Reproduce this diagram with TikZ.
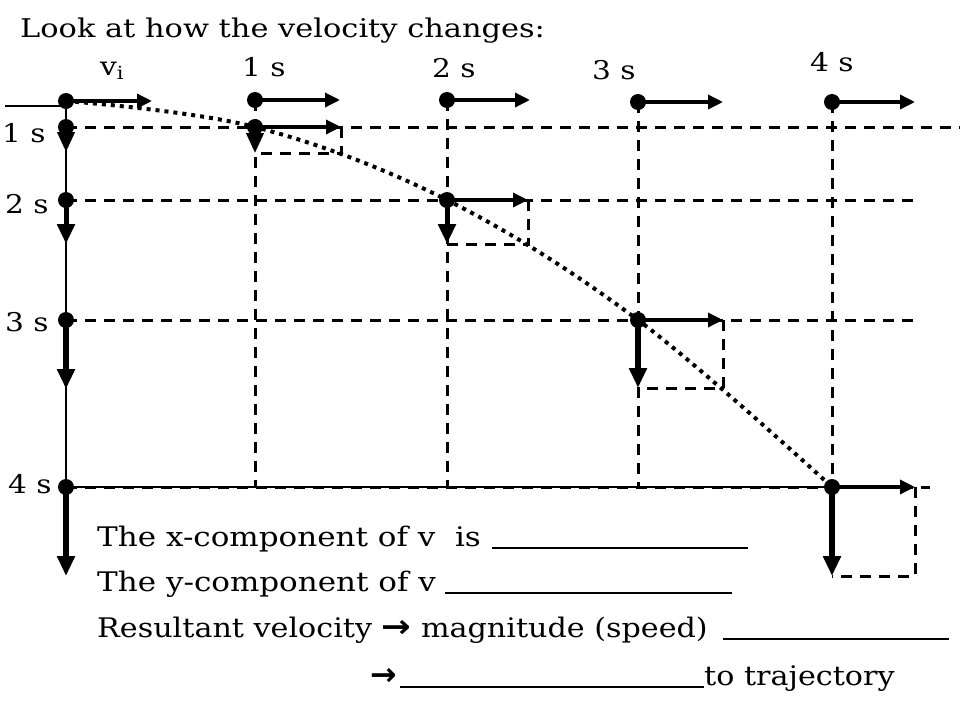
\documentclass[tikz,border=0pt]{standalone}
\usepackage{fontspec}
\setmainfont{DejaVu Serif}
\newfontfamily\symfont{DejaVu Sans}
\usetikzlibrary{arrows.meta}
\newlength\px \setlength\px{0.03cm}
\newcommand{\wide}[1]{\scalebox{1.15}[1]{#1}}
\newcommand{\bigarrow}{{\symfont\bfseries\fontsize{27}{27}\selectfont →}}
\tikzset{
  dot/.style={circle,fill=black,inner sep=0pt,minimum size=16\px},
  vecx/.style={line width=3.5\px,-{Triangle[length=12.8pt,width=11.9pt]}},
  vecy/.style={-{Triangle[length=17pt,width=14.5pt]}},
  gridline/.style={line width=3\px,dash pattern=on 11\px off 8\px},
  thinline/.style={line width=1.3\px},
  traj/.style={line width=4\px,dash pattern=on 4\px off 5\px},
  lab/.style={font=\fontsize{22}{26}\selectfont,inner sep=0pt,anchor=base west},
  body/.style={font=\fontsize{23}{28}\selectfont,inner sep=0pt,anchor=base west},
}
\begin{document}
\begin{tikzpicture}[x=0.03cm,y=-0.03cm]
\useasboundingbox (0,0) rectangle (960,720);
% title
\node[lab] (title) at (20,37) {\scalebox{1.18}[1]{Look at how the velocity changes:}};
% top labels
\node[lab] (lvi) at (100,75) {\wide{v\textsubscript{i}}};
\node[lab] (lt1) at (242,76) {\wide{1 s}};
\node[lab] (lt2) at (432,77) {\wide{2 s}};
\node[lab] (lt3) at (592,79) {\wide{3 s}};
\node[lab] (lt4) at (810,71) {\wide{4 s}};
% left labels
\node[lab] (ll1) at (2,142) {\wide{1 s}};
\node[lab] (ll2) at (5,213) {\wide{2 s}};
\node[lab] (ll3) at (5,331) {\wide{3 s}};
\node[lab] (ll4) at (8,493) {\wide{4 s}};

% coordinates for grid ends
\coordinate (g0) at (5,106);
\coordinate (h1e) at (960,127);
\coordinate (h2e) at (920,200);
\coordinate (h3e) at (915,320);
\coordinate (h4e) at (930,487);
\coordinate (c1b) at (255,487);
\coordinate (c2b) at (447,487);
\coordinate (c3b) at (638,487);
\coordinate (c4b) at (832,487);

% top dots
\node[dot] (v0) at (66,101) {};
\node[dot] (t1) at (255,100) {};
\node[dot] (t2) at (447,100) {};
\node[dot] (t3) at (638,102) {};
\node[dot] (t4) at (832,102) {};
% left column dots
\node[dot] (l1) at (66,127) {};
\node[dot] (l2) at (66,200) {};
\node[dot] (l3) at (66,320) {};
\node[dot] (l4) at (66,487) {};
% trajectory dots
\node[dot] (d1) at (255,127) {};
\node[dot] (d2) at (447,200) {};
\node[dot] (d3) at (638,320) {};
\node[dot] (d4) at (832,487) {};

% thin lines
\draw[thinline] (g0) -- (g0 -| v0);
\draw[thinline] (v0.center) -- (l4.center);
\draw[thinline] (l4.center) -- (d4.center);

% dashed grid
\draw[gridline] (l1.center) -- (h1e);
\draw[gridline] (l2.center) -- (h2e);
\draw[gridline] (l3.center) -- (h3e);
\draw[gridline] (l4.center) -- (h4e);
\draw[gridline] (t1.center) -- (c1b);
\draw[gridline] (t2.center) -- (c2b);
\draw[gridline] (t3.center) -- (c3b);
\draw[gridline] (t4.center) -- (c4b);

% horizontal velocity arrows (top row)
\coordinate (v0x) at (152,101);
\coordinate (t1x) at (340,100);
\coordinate (t2x) at (530,100);
\coordinate (t3x) at (723,102);
\coordinate (t4x) at (915,102);
\draw[vecx] (v0.center) -- (v0x);
\draw[vecx] (t1.center) -- (t1x);
\draw[vecx] (t2.center) -- (t2x);
\draw[vecx] (t3.center) -- (t3x);
\draw[vecx] (t4.center) -- (t4x);

% left column vertical arrows
\coordinate (l1y) at (66,152);
\coordinate (l2y) at (66,244);
\coordinate (l3y) at (66,389);
\coordinate (l4y) at (66,576);
\draw[vecy,line width=4\px] (l1.center) -- (l1y);
\draw[vecy,line width=5\px] (l2.center) -- (l2y);
\draw[vecy,line width=6\px] (l3.center) -- (l3y);
\draw[vecy,line width=6.5\px] (l4.center) -- (l4y);

% component boxes at each time
\coordinate (d1x) at (341,127);
\coordinate (d1y) at (255,153);
\coordinate (d1c) at (341,153);
\coordinate (d2x) at (528,200);
\coordinate (d2y) at (447,244);
\coordinate (d2c) at (528,244);
\coordinate (d3x) at (723,320);
\coordinate (d3y) at (638,388);
\coordinate (d3c) at (723,388);
\coordinate (d4x) at (915,487);
\coordinate (d4y) at (832,576);
\coordinate (d4c) at (915,576);
\draw[gridline] (d1x) -- (d1c) -- (d1y);
\draw[gridline] (d2x) -- (d2c) -- (d2y);
\draw[gridline] (d3x) -- (d3c) -- (d3y);
\draw[gridline] (d4x) -- (d4c) -- (d4y);
\draw[vecx] (d1.center) -- (d1x);
\draw[vecx] (d2.center) -- (d2x);
\draw[vecx] (d3.center) -- (d3x);
\draw[vecx] (d4.center) -- (d4x);
\draw[vecy,line width=4\px] (d1.center) -- (d1y);
\draw[vecy,line width=5\px] (d2.center) -- (d2y);
\draw[vecy,line width=6\px] (d3.center) -- (d3y);
\draw[vecy,line width=6.5\px] (d4.center) -- (d4y);

% trajectory
\draw[traj] plot[smooth,tension=0.6] coordinates {(v0.center) (d1.center) (d2.center) (d3.center) (d4.center)};

% bottom text
\node[body] (q1) at (97,546) {\makebox[395\px][l]{\wide{The x-component of v~~is}}\rule[-3\px]{256\px}{2\px}};
\node[body] (q2) at (97,591) {\makebox[348\px][l]{\wide{The y-component of v}}\rule[-3\px]{287\px}{2\px}};
\node[body] (q3) at (97,637) {\makebox[626\px][l]{\scalebox{1.12}[1]{Resultant velocity \bigarrow{} magnitude (speed)}}\rule[-3\px]{226\px}{2\px}};
\node[body] (q4) at (370,685) {\makebox[30\px][l]{\bigarrow}\rule[-3\px]{304\px}{2\px}\scalebox{1.12}[1]{to trajectory}};
\end{tikzpicture}
\end{document}
